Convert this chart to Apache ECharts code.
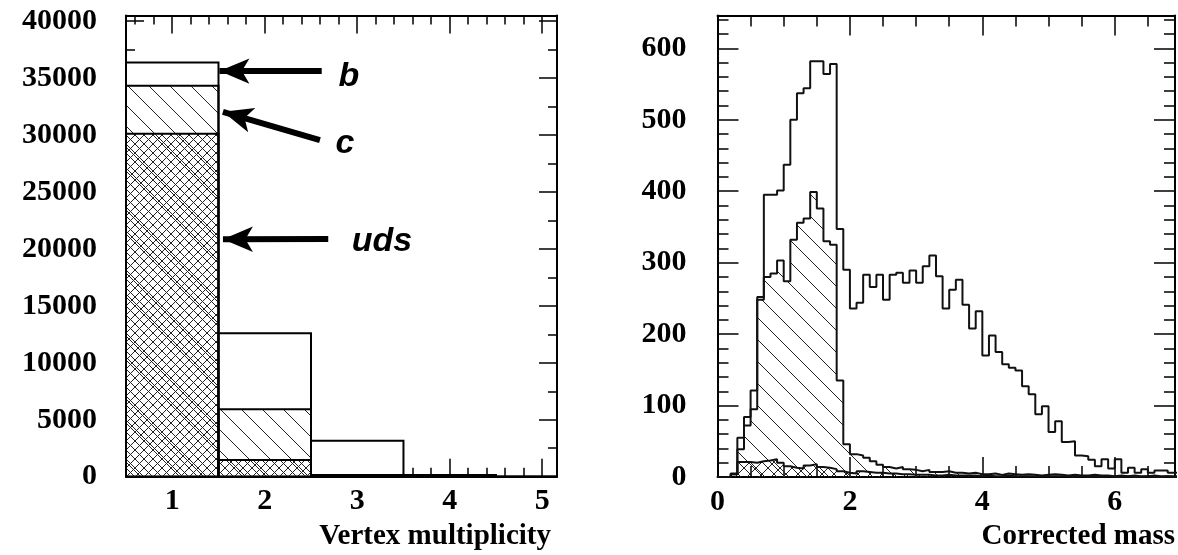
<!DOCTYPE html>
<html><head><meta charset="utf-8">
<script src="https://cdn.jsdelivr.net/npm/echarts@6/dist/echarts.min.js"></script>
<style>html,body{margin:0;padding:0;background:#fff}#c{width:1178px;height:555px}</style>
</head><body><div id="c"></div>
<script>
// ---------- Left panel: vertex multiplicity ----------
const vmBins = [1, 2, 3, 4, 5];
const vmTotal = [36380, 12590, 3160, 150, 20];     // b + c + uds
const vmCharmUds = [34330, 5920, 150, 20, 3];      // c + uds
const vmUds = [30120, 1470, 40, 5, 1];             // uds
const vmMajorTicks = [1, 2, 3, 4, 5];

// ---------- Right panel: corrected mass (bins of 0.1) ----------
const cmBinWidth = 0.1;
const cmTotal = [0,0,4,55,84,121,252,395,395,401,
  437,500,537,544,582,582,564,578,347,290,
  236,244,283,266,283,248,283,286,272,289,
  272,295,310,281,236,262,276,241,208,232,
  170,198,175,158,153,149,127,116,88,99,
  63,78,49,50,30,29,24,15,25,12,
  25,6,13,6,11,6,9,9,6,6];
const cmCharmUds = [0,0,5,39,72,95,248,280,285,303,
  274,332,356,362,399,376,330,325,135,46,
  32,30,27,22,17,14,12,14,11,10,
  8,10,7,7,8,6,6,5,6,4,
  4,5,3,5,4,3,4,3,2,3,
  4,3,2,3,2,2,3,2,2,1,
  2,1,2,1,1,2,1,1,1,1];
const cmUds = [0,0,4,21,21,20,22,23,25,20,
  15,13,12,16,18,14,13,11,8,6,
  5,8,7,6,6,5,5,4,4,3,
  3,3,2,2,3,2,2,2,2,1,
  2,1,1,2,1,1,1,1,1,1,
  1,1,1,0,1,0,1,0,1,0,
  0,1,0,0,1,0,0,1,0,0];

// annotation labels
const arrowLabels = ['b', 'c', 'uds'];

// ---------- helpers ----------
function makeHatch(size, cross, color, lw) {
  const c = document.createElement('canvas');
  c.width = size; c.height = size;
  const g = c.getContext('2d');
  g.strokeStyle = color; g.lineWidth = lw;
  g.beginPath();
  for (const o of [-size, 0, size]) {
    g.moveTo(o, 0); g.lineTo(o + size, size);
    if (cross) { g.moveTo(o + size, 0); g.lineTo(o, size); }
  }
  g.stroke();
  return { image: c, repeat: 'repeat' };
}
const hatchL = makeHatch(21, false, '#222', 1);
const crossL = makeHatch(9, true, '#222', 1);
const hatchR = makeHatch(22, false, '#222', 1);
const crossR = makeHatch(12, true, '#222', 1);

const numFont = { fontFamily: "'Liberation Serif', 'Times New Roman', serif", fontWeight: 'bold', fontSize: 30, color: '#000' };
const lineStyle = { color: '#000', width: 2 };

const vmMinorTicks = [];
for (let i = 3; i <= 25; i++) { const v = +(i * 0.2).toFixed(1); if (Math.abs(v - Math.round(v)) > 1e-6) vmMinorTicks.push(v); }

const L_XMIN = 0.5, L_XMAX = 5.16, L_YMAX = 40500;
const R_XMAX = 6.91, R_YMAX = 646;

function xAx(grid, pos, min, max, extra) {
  return Object.assign({
    type: 'value', gridIndex: grid, position: pos, min: min, max: max,
    axisLine: { show: true, onZero: false, lineStyle: lineStyle },
    splitLine: { show: false }
  }, extra);
}

const xAxis = [
  xAx(0, 'bottom', L_XMIN, L_XMAX, {
    axisTick: { show: true, inside: true, length: 18, customValues: vmMajorTicks, lineStyle: { color: '#000', width: 1.5 } },
    axisLabel: Object.assign({ customValues: vmMajorTicks, margin: 10 }, numFont)
  }),
  xAx(0, 'bottom', L_XMIN, L_XMAX, {
    axisLine: { show: false, onZero: false },
    axisTick: { show: true, inside: true, length: 9, customValues: vmMinorTicks, lineStyle: { color: '#000', width: 1.5 } },
    axisLabel: { show: false }
  }),
  xAx(0, 'top', L_XMIN, L_XMAX, {
    axisTick: { show: true, inside: true, length: 18, customValues: vmMajorTicks, lineStyle: { color: '#000', width: 1.5 } },
    axisLabel: { show: false }
  }),
  xAx(0, 'top', L_XMIN, L_XMAX, {
    axisLine: { show: false, onZero: false },
    axisTick: { show: true, inside: true, length: 9, customValues: vmMinorTicks, lineStyle: { color: '#000', width: 1.5 } },
    axisLabel: { show: false }
  }),
  xAx(1, 'bottom', 0, R_XMAX, {
    interval: 2,
    axisTick: { show: true, inside: true, length: 20, lineStyle: { color: '#000', width: 1.5 } },
    minorTick: { show: true, splitNumber: 4, length: 11, lineStyle: { color: '#000', width: 1.5 } },
    axisLabel: Object.assign({ margin: 10, formatter: v => (Math.abs(v % 2) < 1e-9 ? String(v) : '') }, numFont)
  }),
  xAx(1, 'top', 0, R_XMAX, {
    interval: 2,
    axisTick: { show: true, inside: true, length: 20, lineStyle: { color: '#000', width: 1.5 } },
    minorTick: { show: true, splitNumber: 4, length: 11, lineStyle: { color: '#000', width: 1.5 } },
    axisLabel: { show: false }
  })
];

function yAx(grid, pos, max, interval, major, minor, split, labels, margin) {
  return {
    type: 'value', gridIndex: grid, position: pos, min: 0, max: max, interval: interval,
    axisLine: { show: true, onZero: false, lineStyle: lineStyle },
    splitLine: { show: false },
    axisTick: { show: true, inside: true, length: major, lineStyle: { color: '#000', width: 1.5 } },
    minorTick: { show: true, splitNumber: split, length: minor, lineStyle: { color: '#000', width: 1.5 } },
    axisLabel: labels ? Object.assign({ margin: margin, formatter: v => (v % interval === 0 ? String(v) : '') }, numFont) : { show: false }
  };
}
const yAxis = [
  yAx(0, 'left', L_YMAX, 5000, 18, 9, 2, true, 29),
  yAx(0, 'right', L_YMAX, 5000, 18, 9, 2, false, 0),
  yAx(1, 'left', R_YMAX, 100, 21, 11, 5, true, 31),
  yAx(1, 'right', R_YMAX, 100, 21, 11, 5, false, 0)
];

function binRect(fill) {
  return function (params, api) {
    const p0 = api.coord([api.value(0), api.value(2)]);
    const p1 = api.coord([api.value(1), 0]);
    return { type: 'rect', shape: { x: p0[0], y: p0[1], width: p1[0] - p0[0], height: p1[1] - p0[1] },
      style: { fill: fill, stroke: '#000', lineWidth: 2 } };
  };
}
function vmData(arr) { return vmBins.map((b, i) => [b - 0.5, b + 0.5, arr[i]]); }
function cmData(arr) {
  const d = arr.map((v, k) => [k * cmBinWidth, v]);
  d.push([arr.length * cmBinWidth, arr[arr.length - 1]]);
  return d;
}
function stepSeries(arr, fill, z) {
  return {
    type: 'line', step: 'end', xAxisIndex: 4, yAxisIndex: 2, data: cmData(arr), symbol: 'none', z: z,
    lineStyle: { color: '#111', width: 2 },
    areaStyle: fill ? { color: fill, opacity: 1 } : undefined,
    silent: true, animation: false
  };
}

const arrowStyle = { color: '#000', width: 6, type: 'solid' };
const labelFont = { fontFamily: "'Liberation Sans', Arial, sans-serif", fontWeight: 'bold', fontStyle: 'italic', fontSize: 34, color: '#000' };

const series = [
  { type: 'custom', xAxisIndex: 0, yAxisIndex: 0, renderItem: binRect('#fff'), data: vmData(vmTotal), encode: { x: [0, 1], y: 2 }, clip: true, z: 2, silent: true, animation: false },
  { type: 'custom', xAxisIndex: 0, yAxisIndex: 0, renderItem: binRect(hatchL), data: vmData(vmCharmUds), encode: { x: [0, 1], y: 2 }, clip: true, z: 3, silent: true, animation: false },
  { type: 'custom', xAxisIndex: 0, yAxisIndex: 0, renderItem: binRect(crossL), data: vmData(vmUds), encode: { x: [0, 1], y: 2 }, clip: true, z: 4, silent: true, animation: false },
  {
    type: 'line', xAxisIndex: 0, yAxisIndex: 0, data: [], z: 6, silent: true, animation: false,
    markLine: {
      silent: true, animation: false, symbol: ['none', 'arrow'],
      lineStyle: arrowStyle, label: { show: false }, emphasis: { disabled: true },
      data: [
        [{ coord: [2.616, 35620], symbol: 'none' }, { coord: [1.51, 35620], symbol: 'arrow', symbolSize: [19, 30] }],
        [{ coord: [2.597, 29560], symbol: 'none' }, { coord: [1.548, 32045], symbol: 'arrow', symbolSize: [19, 30] }],
        [{ coord: [2.687, 20870], symbol: 'none' }, { coord: [1.548, 20843], symbol: 'arrow', symbolSize: [19, 30] }]
      ]
    },
    markPoint: {
      silent: true, animation: false, symbol: 'circle', symbolSize: 1, itemStyle: { color: 'rgba(0,0,0,0)' },
      label: Object.assign({ show: true, position: 'inside', formatter: p => p.name }, labelFont),
      data: [
        { name: arrowLabels[0], coord: [2.911, 35090] },
        { name: arrowLabels[1], coord: [2.868, 29210] },
        { name: arrowLabels[2], coord: [3.268, 20600] }
      ]
    }
  },
  stepSeries(cmCharmUds, hatchR, 2),
  stepSeries(cmUds, crossR, 3),
  stepSeries(cmTotal, null, 4)
];

const chart = echarts.init(document.getElementById('c'), null, { renderer: 'canvas' });
chart.setOption({
  animation: false,
  backgroundColor: '#fff',
  grid: [
    { left: 126, top: 15.5, width: 431, height: 461.2 },
    { left: 717.5, top: 15.5, width: 459, height: 461.5 }
  ],
  xAxis: xAxis,
  yAxis: yAxis,
  series: series,
  graphic: [
    { type: 'text', x: 551, y: 537, style: { text: 'Vertex multiplicity', font: "bold 29px 'Liberation Serif'", fill: '#000', align: 'right', verticalAlign: 'middle' } },
    { type: 'text', x: 1175, y: 537, style: { text: 'Corrected mass', font: "bold 29px 'Liberation Serif'", fill: '#000', align: 'right', verticalAlign: 'middle' } }
  ]
});
</script></body></html>
